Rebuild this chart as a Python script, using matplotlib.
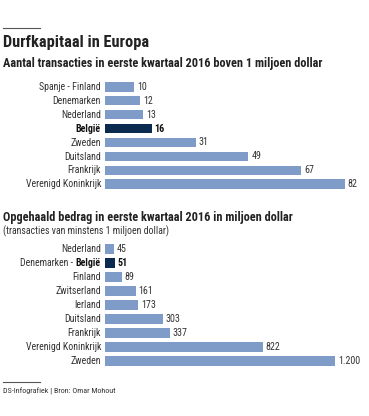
import numpy as np
import matplotlib.pyplot as plt
from matplotlib import font_manager
from matplotlib.lines import Line2D

# data
landen1 = ["Spanje - Finland", "Denemarken", "Nederland", "België",
           "Zweden", "Duitsland", "Frankrijk", "Verenigd Koninkrijk"]
aantal = [10, 12, 13, 16, 31, 49, 67, 82]
hl1 = [False, False, False, True, False, False, False, False]

landen2 = ["Nederland", "Denemarken - België", "Finland", "Zwitserland", "Ierland",
           "Duitsland", "Frankrijk", "Verenigd Koninkrijk", "Zweden"]
bedrag = [45, 51, 89, 161, 173, 303, 337, 822, 1200]
labels2 = ["45", "51", "89", "161", "173", "303", "337", "822", "1.200"]
hl2 = [False, True, False, False, False, False, False, False, False]

W, H = 369, 416
light = "#7f9cc8"
dark = "#0b2a50"
txt = "#333333"

# pick a narrow family if one is installed
have = {f.name for f in font_manager.fontManager.ttflist}
fam = ["Roboto"]
for cand in ["Roboto Condensed", "Liberation Sans Narrow", "Open Sans Condensed", "Lato"]:
    if cand in have:
        fam = [cand]
        break
fam = fam + ["DejaVu Sans"]

fig = plt.figure(figsize=(W / 100, H / 100), dpi=100)
rend = fig.canvas.get_renderer()


def fx(x):
    return x / W


def fy(y):
    return 1 - y / H


def width(s, size, weight="normal"):
    t = fig.text(0, 0, s, fontsize=size, family=fam, fontweight=weight)
    w = t.get_window_extent(rend).width
    t.remove()
    return w


def fit(s, target, weight="normal"):
    return 10 * target / width(s, 10, weight)


def text(x, y, s, **kw):
    kw.setdefault("family", fam)
    kw.setdefault("color", txt)
    return fig.text(fx(x), fy(y), s, va="center", **kw)


def rule(y):
    fig.add_artist(Line2D([fx(3), fx(40)], [fy(y), fy(y)], color="#555555", lw=0.8))


lab_fs = min(fit("Verenigd Koninkrijk", 75), 8)
val_fs = min(fit("1.200", 22), 8)


def bars(ax, vals, labs, hl, xmax):
    ypos = np.arange(len(vals))
    cols = [dark if h else light for h in hl]
    ax.barh(ypos, vals, height=0.66, color=cols)
    ax.set_xlim(0, xmax)
    ax.set_ylim(len(vals) - 0.5, -0.5)
    ax.axis("off")
    for i, (v, l, h) in enumerate(zip(vals, labs, hl)):
        ax.annotate(l, (v, i), xytext=(2, 0), textcoords="offset points",
                    va="center", ha="left", fontsize=val_fs, family=fam,
                    color="#111111" if h else txt,
                    fontweight="bold" if h else "normal")


rule(28)
text(3, 43, "Durfkapitaal in Europa",
     fontsize=fit("Durfkapitaal in Europa", 145, "bold"), fontweight="bold", color="#222222")
s1 = "Aantal transacties in eerste kwartaal 2016 boven 1 miljoen dollar"
text(3, 64, s1, fontsize=fit(s1, 319, "bold"), fontweight="bold", color="#222222")

ax1 = fig.add_axes([fx(105), fy(191), fx(345) - fx(105), fy(80) - fy(191)])
bars(ax1, aantal, [str(a) for a in aantal], hl1, 82)
for i, (n, h) in enumerate(zip(landen1, hl1)):
    text(101, 87 + i * 13.9, n, ha="right", fontsize=lab_fs,
         fontweight="bold" if h else "normal", color="#111111" if h else txt)

s2 = "Opgehaald bedrag in eerste kwartaal 2016 in miljoen dollar"
text(3, 217, s2, fontsize=fit(s2, 290, "bold"), fontweight="bold", color="#222222")
s3 = "(transacties van minstens 1 miljoen dollar)"
text(3, 231, s3, fontsize=fit(s3, 165))

ax2 = fig.add_axes([fx(105), fy(368), fx(335) - fx(105), fy(242) - fy(368)])
bars(ax2, bedrag, labels2, hl2, 1200)
for i, n in enumerate(landen2):
    y = 249 + i * 14
    if n == "Denemarken - België":
        b = text(101, y, "België", ha="right", fontsize=lab_fs,
                 fontweight="bold", color="#111111")
        bw = b.get_window_extent(rend).width
        text(101 - bw, y, "Denemarken - ", ha="right", fontsize=lab_fs)
    else:
        text(101, y, n, ha="right", fontsize=lab_fs)

rule(382)
s4 = "DS-Infografiek | Bron: Omar Mohout"
text(3, 391, s4, fontsize=fit(s4, 113))

fig.savefig("out.png", dpi=100)
